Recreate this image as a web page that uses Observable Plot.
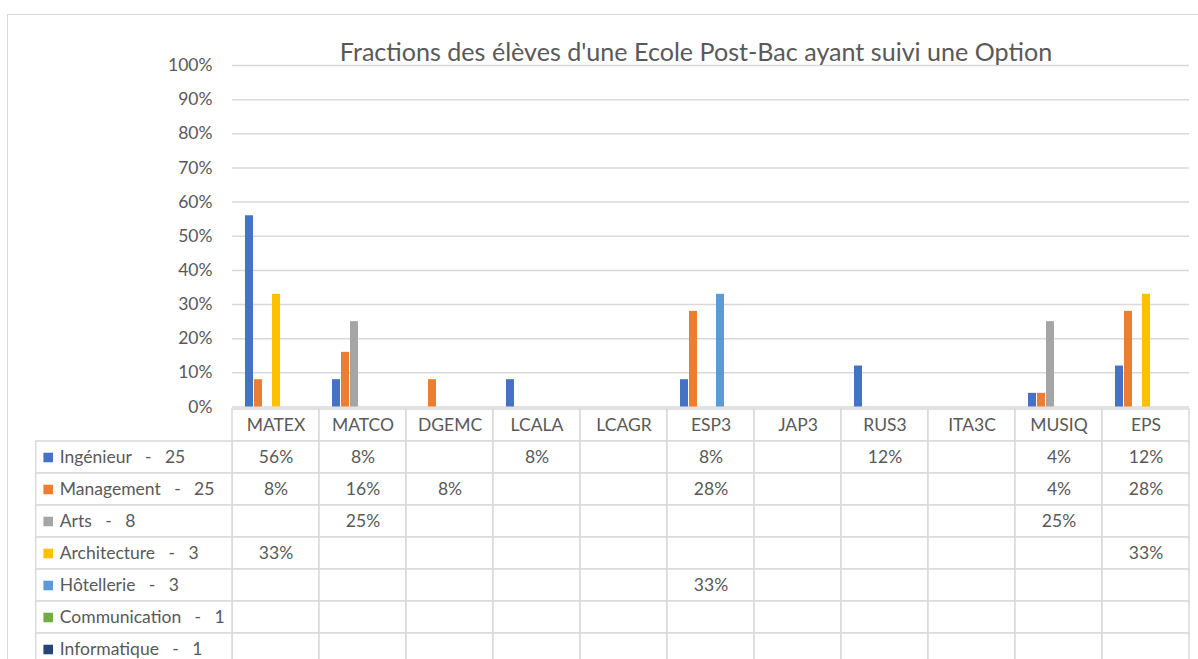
<!DOCTYPE html>
<html><head><meta charset="utf-8">
<script src="https://cdn.jsdelivr.net/npm/d3@7"></script>
<script src="https://cdn.jsdelivr.net/npm/@observablehq/plot@0.6"></script>
<style>
html,body{margin:0;padding:0;background:#fff;overflow:hidden;}
#wrap{position:relative;width:1198px;height:659px;overflow:hidden;font-family:Lato,sans-serif;color:#595959;background:#fff;}
#frame{position:absolute;left:7px;top:14px;width:1300px;height:800px;border:1.5px solid #d9d9d9;box-sizing:border-box;}
#chart,#table{position:absolute;left:0;}
#chart{top:0;}
#table{top:406px;}
#title{position:absolute;left:196px;width:1000px;top:36px;text-align:center;font-size:25.1px;line-height:30px;white-space:nowrap;color:#595959;}
</style></head><body>
<div id="wrap"><div id="frame"></div><div id="chart"></div><div id="table"></div><div id="title">Fractions des élèves d'une Ecole Post-Bac ayant suivi une Option</div></div>
<script>
// ---- data ----
const categories = ["MATEX","MATCO","DGEMC","LCALA","LCAGR","ESP3","JAP3","RUS3","ITA3C","MUSIQ","EPS"];
const series = ["Ingénieur","Management","Arts","Architecture","Hôtellerie","Communication","Informatique"];
const counts = [25, 25, 8, 3, 3, 1, 1];
const colors = ["#4472C4","#ED7D31","#A5A5A5","#FFC000","#5B9BD5","#70AD47","#264478"];
const ingenieur     = [0.56, 0.08, null, 0.08, null, 0.08, null, 0.12, null, 0.04, 0.12];
const management    = [0.08, 0.16, 0.08, null, null, 0.28, null, null, null, 0.04, 0.28];
const arts          = [null, 0.25, null, null, null, null, null, null, null, 0.25, null];
const architecture  = [0.33, null, null, null, null, null, null, null, null, null, 0.33];
const hotellerie    = [null, null, null, null, null, 0.33, null, null, null, null, null];
const communication = [null, null, null, null, null, null, null, null, null, null, null];
const informatique  = [null, null, null, null, null, null, null, null, null, null, null];
const yTicks = [0, 0.1, 0.2, 0.3, 0.4, 0.5, 0.6, 0.7, 0.8, 0.9, 1];

const seriesValues = [ingenieur, management, arts, architecture, hotellerie, communication, informatique];
const pct = d3.format(".0%");

// every (series, category) pair, so that no facet is empty
const cellData = [];
seriesValues.forEach((vals, si) => vals.forEach((v, ci) => {
  cellData.push({ci, category: categories[ci], series: series[si], value: v});
}));

const textColor = "#595959";
const lineColor = "#d9d9d9";
const baseStyle = {fontFamily: "Lato, sans-serif", fontSize: "17.5px", color: textColor, background: "transparent", overflow: "visible"};
const left = 232, right = 9;

// ---- bar chart ----
const chart = Plot.plot({
  width: 1198, height: 407,
  marginLeft: left, marginRight: right, marginTop: 65, marginBottom: 0.5,
  style: baseStyle,
  facet: {data: cellData, x: "category"},
  fx: {domain: categories, padding: 0, axis: null, label: null},
  x: {domain: series, paddingInner: 0.15, paddingOuter: 0.93, axis: null},
  y: {domain: [0, 1], ticks: yTicks, tickFormat: pct, tickSize: 0, tickPadding: 20, label: null},
  color: {domain: series, range: colors},
  marks: [
    Plot.ruleY(yTicks, {stroke: lineColor, strokeWidth: 1.5}),
    Plot.barY(cellData, {x: "series", y: "value", fill: "series"})
  ]
});
document.getElementById("chart").appendChild(chart);

// ---- data table ----
const header = "__header";
const colWidth = (1198 - left - right) / categories.length;
const labelSpan = (left - 35.7) / colWidth;
const sep = "\u00a0\u00a0\u00a0-\u00a0\u00a0\u00a0";
const table = Plot.plot({
  width: 1198, height: 262,
  marginLeft: left, marginRight: right, marginTop: 0.5, marginBottom: 0,
  style: baseStyle,
  x: {domain: [0, categories.length], axis: null},
  y: {domain: [header, ...series], padding: 0, axis: null},
  color: {domain: series, range: colors},
  marks: [
    Plot.barX(categories, {x1: (d, i) => i, x2: (d, i) => i + 1, y: () => header, fill: "white", stroke: lineColor, strokeWidth: 1.5}),
    Plot.barX(cellData, {x1: d => d.ci, x2: d => d.ci + 1, y: "series", fill: "white", stroke: lineColor, strokeWidth: 1.5}),
    Plot.barX(series, {x1: () => -labelSpan, x2: () => 0, y: d => d, fill: "white", stroke: lineColor, strokeWidth: 1.5}),
    Plot.dot(series, {x: () => -labelSpan, y: d => d, dx: 12, symbol: "square", r: 5.4, fill: d => d}),
    Plot.text(series, {x: () => -labelSpan, y: d => d, dx: 23.6, textAnchor: "start", fill: textColor,
      text: (d, i) => `${d}${sep}${counts[i]}`}),
    Plot.text(categories, {x: (d, i) => i + 0.5, y: () => header, text: d => d, fill: textColor}),
    Plot.text(cellData.filter(d => d.value != null), {x: d => d.ci + 0.5, y: "series", text: d => pct(d.value), fill: textColor})
  ]
});
document.getElementById("table").appendChild(table);
</script>
</body></html>
